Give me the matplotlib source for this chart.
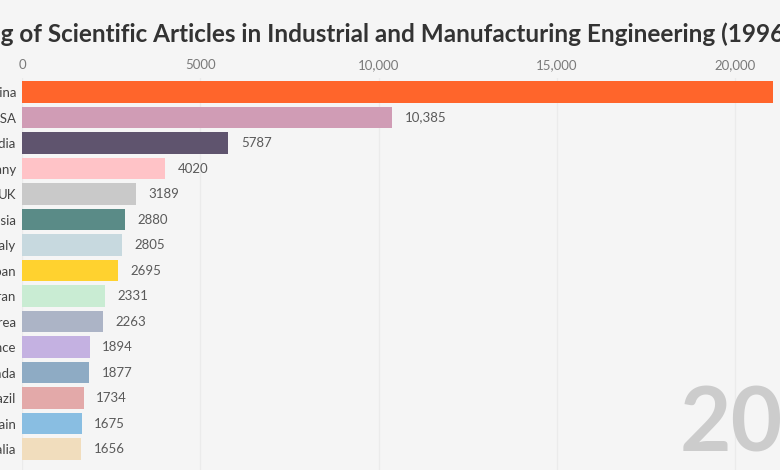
import matplotlib
matplotlib.use("Agg")
import matplotlib.pyplot as plt

# cumulative article counts, one frame of the race
countries = ["China", "USA", "India", "Germany", "UK", "Russia", "Italy", "Japan",
             "Iran", "South Korea", "France", "Canada", "Brazil", "Spain", "Australia"]
articles = [21070, 10385, 5787, 4020, 3189, 2880, 2805, 2695,
            2331, 2263, 1894, 1877, 1734, 1675, 1656]
bar_colors = ["#ff652b", "#d09cb5", "#5f546e", "#ffc3c7", "#c9c9c9", "#5a8b87", "#c7d9df",
              "#ffd22f", "#c9ecd3", "#acb4c6", "#c4b1e1", "#8eabc4", "#e3a9a9", "#89bee2", "#f1ddbd"]
x_ticks = [0, 5000, 10000, 15000, 20000]
x_tick_labels = ["0", "5000", "10,000", "15,000", "20,000"]
title = "Ranking of Scientific Articles in Industrial and Manufacturing Engineering (1996-2019)"
year_label = "2010"

plt.rcParams['font.family'] = ['Lato', 'DejaVu Sans']
bg = "#f5f5f5"

W, H = 780, 470
fig = plt.figure(figsize=(W / 100, H / 100), dpi=100, facecolor=bg)

# axes: x=0 sits at 22 px, bar rows every ~25.5 px starting at y=92
px_per_unit = 0.03565
row = 25.5
ax = fig.add_axes([22 / W, 0, (W - 22) / W, (H - 78) / H])
ax.set_facecolor(bg)
ax.set_xlim(0, (W - 22) / px_per_unit)
ax.set_ylim((H - 92) / row, -0.55)

ypos = list(range(len(countries)))
ax.barh(ypos, articles, height=0.84, color=bar_colors, zorder=2)

for y, v in zip(ypos, articles):
    txt = f"{v:,}" if v >= 10000 else str(v)
    ax.annotate(txt, (v, y), xytext=(9, 0), textcoords="offset points",
                va="center", ha="left", fontsize=9.5, color="#5a5a5a", zorder=3)

ax.set_yticks(ypos)
ax.set_yticklabels(countries, fontsize=9.5, color="#444444")
ax.xaxis.tick_top()
ax.set_xticks(x_ticks)
ax.set_xticklabels(x_tick_labels, fontsize=9.5, color="#7a7a7a")
ax.tick_params(length=0, pad=4)
ax.tick_params(axis="x", pad=5)
ax.grid(axis="x", color="#ebebeb", linewidth=1, zorder=0)
for s in ax.spines.values():
    s.set_visible(False)

# big year in the lower right, partly cut off by the frame
fig.text(680 / W, 1 - 452 / H, year_label, fontsize=64, fontweight="bold",
         color="#cccccc", ha="left", va="baseline")

# title, shifted so that only "g of ..." shows at the left edge
renderer = fig.canvas.get_renderer()
probe = fig.text(0, 0, "Rankin", fontsize=17.5, fontweight="bold")
shift = probe.get_window_extent(renderer).width
probe.remove()
fig.text((-shift + 1) / W, 1 - 42 / H, title, fontsize=17.5, fontweight="bold",
         color="#333333", ha="left", va="baseline")

fig.savefig("out.png", dpi=100, facecolor=bg)
